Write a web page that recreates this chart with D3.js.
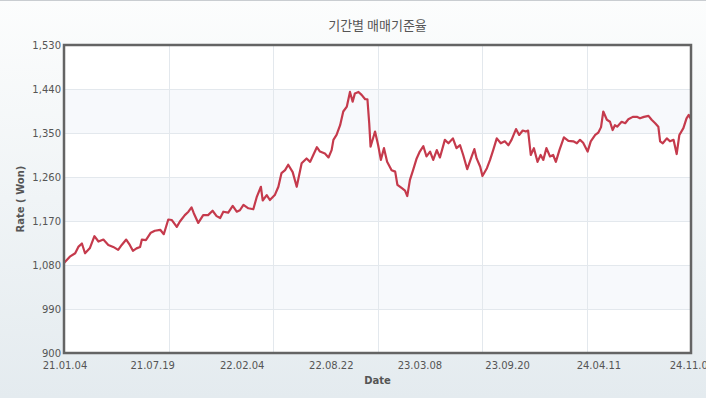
<!DOCTYPE html>
<html>
<head>
<meta charset="utf-8">
<script src="https://cdn.jsdelivr.net/npm/d3@7"></script>
<style>
  html, body { margin: 0; padding: 0; background: #fff; }
  svg { display: block; font-family: "DejaVu Sans", Verdana, sans-serif; }
</style>
</head>
<body>
<svg id="chart" width="706" height="398"></svg>
<script>
const title = "기간별 매매기준율";
const xTitle = "Date";
const yTitle = "Rate ( Won)";

const xTickLabels = ["21.01.04", "21.07.19", "22.02.04", "22.08.22", "23.03.08", "23.09.20", "24.04.11", "24.11.05"];
const yTicks = [900, 990, 1080, 1170, 1260, 1350, 1440, 1530];

const dates = [
  "2021-01-04", "2021-01-17", "2021-01-29", "2021-02-05", "2021-02-13", "2021-02-20", "2021-03-03", "2021-03-13",
  "2021-03-22", "2021-04-02", "2021-04-13", "2021-04-24", "2021-05-05", "2021-05-13", "2021-05-23", "2021-05-31",
  "2021-06-07", "2021-06-15", "2021-06-23", "2021-06-27", "2021-07-06", "2021-07-17", "2021-07-26", "2021-08-07",
  "2021-08-15", "2021-08-25", "2021-09-02", "2021-09-13", "2021-09-20", "2021-10-01", "2021-10-09", "2021-10-16",
  "2021-10-21", "2021-10-31", "2021-11-11", "2021-11-22", "2021-12-02", "2021-12-11", "2021-12-19", "2021-12-26",
  "2022-01-06", "2022-01-16", "2022-01-25", "2022-02-01", "2022-02-09", "2022-02-20", "2022-03-03", "2022-03-11",
  "2022-03-20", "2022-03-24", "2022-04-02", "2022-04-09", "2022-04-20", "2022-04-28", "2022-05-05", "2022-05-13",
  "2022-05-20", "2022-05-30", "2022-06-08", "2022-06-19", "2022-06-30", "2022-07-08", "2022-07-15", "2022-07-23",
  "2022-07-30", "2022-08-10", "2022-08-18", "2022-08-25", "2022-08-29", "2022-09-05", "2022-09-13", "2022-09-20",
  "2022-09-28", "2022-10-05", "2022-10-11", "2022-10-16", "2022-10-24", "2022-10-31", "2022-11-08", "2022-11-13",
  "2022-11-17", "2022-11-20", "2022-11-30", "2022-12-07", "2022-12-13", "2022-12-20", "2022-12-27", "2023-01-06",
  "2023-01-14", "2023-01-19", "2023-01-29", "2023-02-05", "2023-02-10", "2023-02-16", "2023-02-23", "2023-03-03",
  "2023-03-10", "2023-03-18", "2023-03-25", "2023-04-02", "2023-04-09", "2023-04-17", "2023-04-24", "2023-05-05",
  "2023-05-13", "2023-05-23", "2023-05-31", "2023-06-08", "2023-06-15", "2023-06-24", "2023-07-04", "2023-07-10",
  "2023-07-15", "2023-07-23", "2023-07-28", "2023-08-07", "2023-08-14", "2023-08-21", "2023-08-29", "2023-09-07",
  "2023-09-16", "2023-09-24", "2023-10-01", "2023-10-11", "2023-10-18", "2023-10-26", "2023-11-02", "2023-11-07",
  "2023-11-13", "2023-11-20", "2023-11-28", "2023-12-05", "2023-12-11", "2023-12-18", "2023-12-26", "2024-01-02",
  "2024-01-08", "2024-01-16", "2024-01-26", "2024-02-05", "2024-02-16", "2024-02-24", "2024-03-02", "2024-03-09",
  "2024-03-19", "2024-03-26", "2024-04-05", "2024-04-12", "2024-04-18", "2024-04-23", "2024-05-01", "2024-05-08",
  "2024-05-14", "2024-05-19", "2024-05-24", "2024-06-03", "2024-06-11", "2024-06-18", "2024-06-28", "2024-07-07",
  "2024-07-14", "2024-07-23", "2024-08-02", "2024-08-09", "2024-08-17", "2024-08-24", "2024-08-28", "2024-09-03",
  "2024-09-12", "2024-09-19", "2024-09-27", "2024-10-04", "2024-10-10", "2024-10-19", "2024-10-26", "2024-10-31",
  "2024-11-05"
];

const rates = [
  1084, 1097, 1104, 1117, 1124, 1104, 1115, 1139,
  1128, 1132, 1121, 1117, 1111, 1121, 1132, 1121,
  1109, 1114, 1117, 1132, 1131, 1146, 1150, 1152,
  1143, 1173, 1172, 1158, 1169, 1182, 1189, 1198,
  1186, 1166, 1182, 1182, 1191, 1180, 1176, 1189,
  1187, 1201, 1189, 1192, 1203, 1196, 1194, 1220,
  1240, 1212, 1223, 1213, 1223, 1240, 1268, 1274,
  1285, 1270, 1240, 1288, 1298, 1291, 1305, 1321,
  1312, 1308, 1300, 1315, 1336, 1346, 1366, 1394,
  1404, 1434, 1414, 1431, 1434, 1428, 1419, 1419,
  1370, 1322, 1353, 1325, 1295, 1319, 1291, 1274,
  1271, 1244, 1237, 1232, 1221, 1254, 1274, 1298,
  1312, 1323, 1302, 1312, 1295, 1315, 1300, 1336,
  1329, 1339, 1319, 1325, 1305, 1276, 1302, 1317,
  1298, 1281, 1262, 1278, 1295, 1315, 1339, 1329,
  1333, 1325, 1336, 1358, 1346, 1355, 1353, 1355,
  1305, 1319, 1291, 1305, 1295, 1319, 1302, 1305,
  1291, 1315, 1341, 1334, 1333, 1329, 1336, 1330,
  1312, 1333, 1346, 1351, 1362, 1394, 1377, 1373,
  1356, 1366, 1363, 1373, 1370, 1378, 1383, 1383,
  1380, 1383, 1385, 1377, 1370, 1363, 1333, 1329,
  1339, 1333, 1336, 1307, 1346, 1360, 1380, 1387,
  1378
];

const W = 706, H = 398;
const margin = { top: 45, right: 15, bottom: 45, left: 64 };
const iw = W - margin.left - margin.right;
const ih = H - margin.top - margin.bottom;

const parseDate = d3.timeParse("%Y-%m-%d");
const parseTick = d3.timeParse("%y.%m.%d");
const data = dates.map((d, i) => ({ date: parseDate(d), rate: rates[i] }));

const svg = d3.select("#chart");

// page background
const defs = svg.append("defs");
const grad = defs.append("linearGradient")
  .attr("id", "bg").attr("x1", 0).attr("y1", 0).attr("x2", 0).attr("y2", 1);
grad.append("stop").attr("offset", "0%").attr("stop-color", "#fcfdfd");
grad.append("stop").attr("offset", "100%").attr("stop-color", "#e4ebef");
svg.append("rect").attr("width", W).attr("height", H).attr("fill", "url(#bg)");
svg.append("line")
  .attr("x1", 0).attr("x2", W).attr("y1", 0.5).attr("y2", 0.5)
  .attr("stroke", "#c9cdd1");

const x = d3.scaleTime()
  .domain([parseDate(dates[0]), parseDate(dates[dates.length - 1])])
  .range([0, iw]);
const y = d3.scaleLinear().domain([900, 1530]).range([ih, 0]);

const g = svg.append("g").attr("transform", `translate(${margin.left},${margin.top})`);

// plot area + alternating bands
g.append("rect").attr("width", iw).attr("height", ih).attr("fill", "#fff");
for (let i = 0; i < yTicks.length - 1; i++) {
  if (i % 2 === 1) {
    g.append("rect")
      .attr("x", 0).attr("width", iw)
      .attr("y", y(yTicks[i + 1])).attr("height", y(yTicks[i]) - y(yTicks[i + 1]))
      .attr("fill", "#f7f9fc");
  }
}

// grid
g.selectAll(".hgrid").data(yTicks.slice(1, -1)).join("line")
  .attr("x1", 0).attr("x2", iw)
  .attr("y1", (d) => Math.round(y(d)) + 0.5).attr("y2", (d) => Math.round(y(d)) + 0.5)
  .attr("stroke", "#e3e8ed");
const vgrid = d3.range(1, 6).map((i) => (iw * i) / 6);
g.selectAll(".vgrid").data(vgrid).join("line")
  .attr("x1", (d) => Math.round(d) + 0.5).attr("x2", (d) => Math.round(d) + 0.5)
  .attr("y1", 0).attr("y2", ih)
  .attr("stroke", "#e3e8ed");

// line
const line = d3.line().x((d) => x(d.date)).y((d) => y(d.rate));
g.append("path")
  .datum(data)
  .attr("d", line)
  .attr("fill", "none")
  .attr("stroke", "#c53a4c")
  .attr("stroke-width", 2.2)
  .attr("stroke-linejoin", "round");

// frame
g.append("rect").attr("width", iw).attr("height", ih)
  .attr("fill", "none").attr("stroke", "#646464").attr("stroke-width", 2.5);

// y tick labels
const fmt = d3.format(",");
g.selectAll(".ylab").data(yTicks).join("text")
  .attr("x", -3).attr("y", (d) => y(d)).attr("dy", "0.35em")
  .attr("text-anchor", "end")
  .attr("font-size", 10).attr("fill", "#555")
  .text((d) => fmt(d));

// x tick labels (the last one runs past the right edge, as in the original)
g.selectAll(".xlab").data(xTickLabels).join("text")
  .attr("x", (d) => x(parseTick(d)) + 1).attr("y", ih + 16)
  .attr("text-anchor", "middle")
  .attr("font-size", 10).attr("fill", "#555")
  .text((d) => d);

// titles
svg.append("text")
  .attr("x", margin.left + iw / 2).attr("y", 30)
  .attr("text-anchor", "middle")
  .attr("font-family", "'Noto Sans CJK KR', sans-serif")
  .attr("font-size", 13).attr("fill", "#555")
  .text(title);

svg.append("text")
  .attr("x", margin.left + iw / 2).attr("y", margin.top + ih + 31)
  .attr("text-anchor", "middle")
  .attr("font-size", 10).attr("font-weight", "bold").attr("fill", "#555")
  .text(xTitle);

svg.append("text")
  .attr("transform", `translate(24,${margin.top + ih / 2}) rotate(-90)`)
  .attr("text-anchor", "middle")
  .attr("font-size", 10).attr("font-weight", "bold").attr("fill", "#555")
  .text(yTitle);
</script>
</body>
</html>
